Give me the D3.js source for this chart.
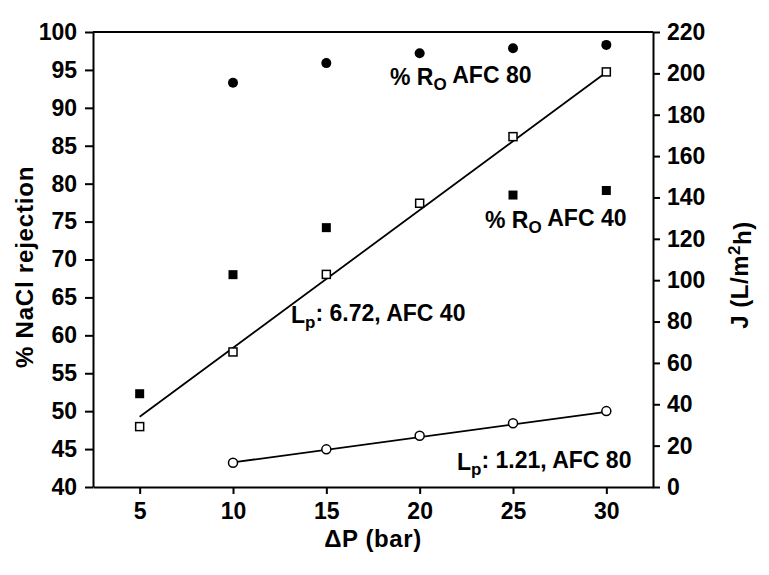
<!DOCTYPE html>
<html>
<head>
<meta charset="utf-8">
<script src="https://cdn.jsdelivr.net/npm/d3@7"></script>
<style>
  body { margin: 0; background: #fff; }
  text { font-family: "Liberation Sans", Arial, sans-serif; font-weight: bold; fill: #000; }
</style>
</head>
<body>
<div id="chart"></div>
<script>
// canvas / plot box
var margin = {top: 32, right: 116, bottom: 88, left: 93},
    width = 560,
    height = 455;

// data
var pressure = [5, 10, 15, 20, 25, 30];
var rejAFC80 = [null, 93.3, 95.9, 97.2, 97.85, 98.3];   // filled circles, left axis
var rejAFC40 = [52.3, 68.0, 74.2, null, 78.5, 79.1];    // filled squares, left axis
var fluxAFC40 = [29.2, 65.3, 102.8, 137.2, 169.4, 200.7]; // open squares, right axis
var fluxAFC80 = [null, 11.7, 18.2, 24.8, 30.8, 36.7];   // open circles, right axis

// linear fits (J = slope * dP + intercept)
var fit40 = {slope: 6.66, intercept: 0.7, from: 5, to: 30};
var fit80 = {slope: 1.22, intercept: -0.3, from: 10, to: 30};

var leftTicks = d3.range(40, 101, 5);
var rightTicks = d3.range(0, 221, 20);
var xTicks = [5, 10, 15, 20, 25, 30];

var x = d3.scaleLinear().domain([2.5, 32.5]).range([0, width]);
var yL = d3.scaleLinear().domain([40, 100]).range([height, 0]);
var yR = d3.scaleLinear().domain([0, 220]).range([height, 0]);

var svg = d3.select("#chart").append("svg")
    .attr("width", 769)
    .attr("height", 575)
  .append("g")
    .attr("transform", "translate(" + margin.left + "," + margin.top + ")");

function pts(vals) {
  return pressure.map(function(p, i) { return {x: p, v: vals[i]}; })
    .filter(function(d) { return d.v != null; });
}

// axes
var gx = svg.append("g")
    .attr("transform", "translate(0," + height + ")")
    .call(d3.axisBottom(x).tickValues(xTicks).tickSize(7).tickSizeOuter(0).tickPadding(9));

var gl = svg.append("g")
    .call(d3.axisLeft(yL).tickValues(leftTicks).tickSize(8).tickSizeOuter(0).tickPadding(8));

var gr = svg.append("g")
    .attr("transform", "translate(" + width + ",0)")
    .call(d3.axisRight(yR).tickValues(rightTicks).tickSize(7).tickSizeOuter(0).tickPadding(7));

[gx, gl, gr].forEach(function(g) {
  g.selectAll("text").style("font-size", "23px").style("font-family", null);
  g.selectAll("path, line").attr("stroke", "#000").attr("stroke-width", 2);
});

svg.append("line")
    .attr("x1", 0).attr("x2", width)
    .attr("y1", 0).attr("y2", 0)
    .attr("stroke", "#000").attr("stroke-width", 2);

// fit lines
[fit40, fit80].forEach(function(f) {
  svg.append("line")
      .attr("x1", x(f.from)).attr("y1", yR(f.slope * f.from + f.intercept))
      .attr("x2", x(f.to)).attr("y2", yR(f.slope * f.to + f.intercept))
      .attr("stroke", "#000").attr("stroke-width", 1.8);
});

// markers
svg.selectAll(".r80").data(pts(rejAFC80)).enter().append("circle")
    .attr("cx", function(d) { return x(d.x); })
    .attr("cy", function(d) { return yL(d.v); })
    .attr("r", 5).attr("fill", "#000");

svg.selectAll(".r40").data(pts(rejAFC40)).enter().append("rect")
    .attr("x", function(d) { return x(d.x) - 4.5; })
    .attr("y", function(d) { return yL(d.v) - 4.5; })
    .attr("width", 9).attr("height", 9).attr("fill", "#000");

svg.selectAll(".j40").data(pts(fluxAFC40)).enter().append("rect")
    .attr("x", function(d) { return x(d.x) - 4; })
    .attr("y", function(d) { return yR(d.v) - 4; })
    .attr("width", 8).attr("height", 8)
    .attr("fill", "#fff").attr("stroke", "#000").attr("stroke-width", 1.5);

svg.selectAll(".j80").data(pts(fluxAFC80)).enter().append("circle")
    .attr("cx", function(d) { return x(d.x); })
    .attr("cy", function(d) { return yR(d.v); })
    .attr("r", 4.5)
    .attr("fill", "#fff").attr("stroke", "#000").attr("stroke-width", 1.5);

// axis titles
svg.append("text")
    .attr("x", width / 2).attr("y", 547 - margin.top)
    .attr("text-anchor", "middle")
    .style("font-size", "24px")
    .style("letter-spacing", "0.6px")
    .text("\u0394P (bar)");

svg.append("text")
    .attr("transform", "translate(" + (33 - margin.left) + "," + (267 - margin.top) + ") rotate(-90)")
    .attr("text-anchor", "middle")
    .style("font-size", "24px")
    .style("letter-spacing", "0.8px")
    .text("% NaCl rejection");

var jt = svg.append("text")
    .attr("transform", "translate(" + (748 - margin.left) + "," + (275 - margin.top) + ") rotate(-90)")
    .attr("text-anchor", "middle")
    .style("font-size", "24px")
    .style("letter-spacing", "0.5px");
jt.append("tspan").text("J (L/m");
jt.append("tspan").attr("dy", "-0.45em").style("font-size", "17px").text("2");
jt.append("tspan").attr("dy", "0.45em").text("h)");

// annotations
function note(px, py, main, sub, rest) {
  var t = svg.append("text")
      .attr("x", px - margin.left).attr("y", py - margin.top)
      .style("font-size", "23px");
  t.append("tspan").text(main);
  t.append("tspan").attr("dy", "0.3em").style("font-size", "17px").text(sub);
  t.append("tspan").attr("dy", "-0.3em").text(rest);
}
note(390, 85, "% R", "O", " AFC 80");
note(485, 228, "% R", "O", " AFC 40");
note(291, 323, "L", "p", ": 6.72, AFC 40");
note(457, 470, "L", "p", ": 1.21, AFC 80");
</script>
</body>
</html>
